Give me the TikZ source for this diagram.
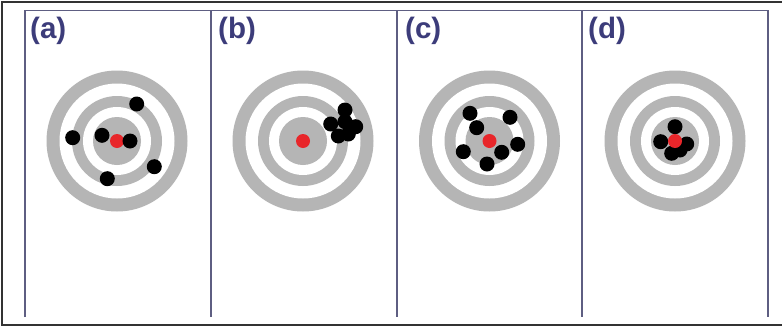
\documentclass[tikz,border=0pt]{standalone}
\usepackage{fontspec}
\setmainfont{Liberation Sans}
\definecolor{ringgray}{HTML}{B5B5B5}
\definecolor{bullred}{HTML}{E8262A}
\definecolor{labelnavy}{HTML}{3C3C7A}
\definecolor{panelline}{HTML}{5E5E82}
\definecolor{framegray}{HTML}{333333}
\tikzset{
  ringfill/.style={fill=ringgray},
  holefill/.style={fill=white},
  hitdot/.style={fill=black},
  bullseye/.style={fill=bullred},
  panelrule/.style={draw=panelline, line width=1.2pt},
  framerule/.style={draw=framegray, line width=1.4pt},
  paneltag/.style={text=labelnavy, font=\bfseries\fontsize{29.5}{30}\selectfont, anchor=north west, inner sep=0pt}
}
\newcommand\mytarget[1]{%
  \begin{scope}[shift={#1}]
    \fill[ringfill] (0,0) circle[radius=70.5pt];
    \fill[holefill] (0,0) circle[radius=57.5pt];
    \fill[ringfill] (0,0) circle[radius=45pt];
    \fill[holefill] (0,0) circle[radius=34pt];
    \fill[ringfill] (0,0) circle[radius=24pt];
  \end{scope}}
\newcommand\myhits[2]{%
  \begin{scope}[shift={#1}]
    \foreach \hx/\hy in {#2} { \fill[hitdot] (\hx,\hy) circle[radius=7.5pt]; }
  \end{scope}}
\newcommand\mybull[1]{\fill[bullseye] #1 circle[radius=7pt];}
\begin{document}
\begin{tikzpicture}[x=1pt,y=-1pt]
  \useasboundingbox (0,0) rectangle (782,327);
  \fill[white] (0,0) rectangle (782,327);
  % outer frame
  \draw[framerule] (782,2) -- (2,2) -- (2,325) -- (782,325);
  % panel rules
  \draw[panelrule] (25,317) -- (25,10.5) -- (768,10.5) -- (768,317);
  \draw[panelrule] (211,10.5) -- (211,317);
  \draw[panelrule] (397,10.5) -- (397,317);
  \draw[panelrule] (582,10.5) -- (582,317);
  % labels
  \node[paneltag] (la) at (30,17) {(a)};
  \node[paneltag] (lb) at (218,17) {(b)};
  \node[paneltag] (lc) at (405,17) {(c)};
  \node[paneltag] (ld) at (588,17) {(d)};
  % (a)
  \mytarget{(117,141)}
  \mybull{(117,141)}
  \myhits{(117,141)}{19.7/-37, -44.3/-3.3, -15/-5.7, 13/0, 37.3/25.7, -9.7/37.7}
  % (b)
  \mytarget{(303,141)}
  \mybull{(303,141)}
  \myhits{(303,141)}{42/-31, 42/-19.3, 27.7/-17, 52.7/-14.3, 35.3/-5, 45.3/-7}
  % (c)
  \mytarget{(489.5,141)}
  \mybull{(489.5,141)}
  \myhits{(489.5,141)}{-19.5/-27.7, 20.5/-23.7, -12.8/-13.3, -26.2/10.7, 28.2/3.3, 12.2/11.3, -2.5/23}
  % (d)
  \mytarget{(675,141)}
  \myhits{(675,141)}{0/-14.3, -14.3/0.7, 11.7/3, -3.3/12.3, 5/9}
  \mybull{(675,141)}
\end{tikzpicture}
\end{document}
